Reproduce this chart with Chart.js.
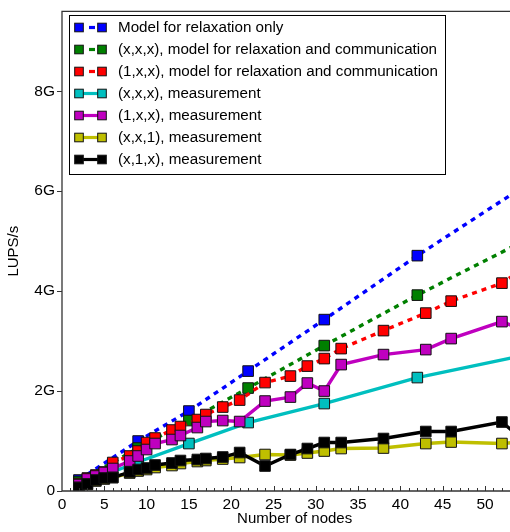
<!DOCTYPE html>
<html>
<head>
<meta charset="utf-8">
<script src="https://cdn.jsdelivr.net/npm/chart.js@4/dist/chart.umd.min.js"></script>
<style>
  html, body { margin: 0; padding: 0; background: #fff; overflow: hidden; }
  #wrap { position: relative; width: 540px; height: 532px; }
</style>
</head>
<body>
<div id="wrap"><canvas id="c" width="540" height="532"></canvas></div>
<script>
// Node counts for the cubic (x,x,x) runs and the slab / pencil runs
const nodesCube = [2, 9, 15, 22, 31, 42, 55];
const nodesSlab = [2, 3, 4, 5, 6, 8, 9, 10, 11, 13, 14, 16, 17, 19, 21, 24, 27, 29, 31, 33, 38, 43, 46, 52, 55];

// Lattice updates per second, in units of 1e9 (G)
const relaxOnlyModel = [0.22, 1.0, 1.6, 2.4, 3.43, 4.71, 6.14];
const cubeCommModel  = [0.19, 0.86, 1.41, 2.06, 2.91, 3.92, 5.04];
const slabCommModel  = [0.15, 0.26, 0.32, 0.38, 0.57, 0.7, 0.8, 0.97, 1.06, 1.22, 1.29, 1.43, 1.53, 1.68, 1.82,
                        2.17, 2.3, 2.5, 2.65, 2.85, 3.21, 3.56, 3.8, 4.16, 4.5];
const cubeMeasured   = [0.12, 0.58, 0.95, 1.37, 1.75, 2.27, 2.73];
const slabMeasured   = [0.13, 0.24, 0.3, 0.37, 0.45, 0.6, 0.7, 0.83, 0.95, 1.03, 1.11, 1.27, 1.39, 1.41, 1.39,
                        1.8, 1.88, 2.16, 2.0, 2.53, 2.73, 2.83, 3.05, 3.39, 3.19];
const xx1Measured    = [0.07, 0.13, 0.2, 0.24, 0.27, 0.36, 0.4, 0.43, 0.47, 0.51, 0.55, 0.59, 0.61, 0.64, 0.67,
                        0.73, 0.72, 0.76, 0.8, 0.85, 0.86, 0.95, 0.98, 0.95, 0.99];
const x1xMeasured    = [0.07, 0.14, 0.22, 0.26, 0.27, 0.38, 0.43, 0.46, 0.52, 0.56, 0.61, 0.63, 0.65, 0.68, 0.77,
                        0.5, 0.73, 0.85, 0.97, 0.97, 1.05, 1.19, 1.19, 1.38, 0.95];

const xTickValues = [0, 5, 10, 15, 20, 25, 30, 35, 40, 45, 50];
const yTickValues = [0, 2, 4, 6, 8];

const seriesLabels = [
  'Model for relaxation only',
  '(x,x,x), model for relaxation and communication',
  '(1,x,x), model for relaxation and communication',
  '(x,x,x), measurement',
  '(1,x,x), measurement',
  '(x,x,1), measurement',
  '(x,1,x), measurement'
];

const FONT = '"Liberation Sans", Arial, Helvetica, sans-serif';

const pts = (xs, ys) => xs.map((x, i) => ({ x, y: ys[i] }));

function series(idx, xs, ys, color, dashed) {
  return {
    label: seriesLabels[idx],
    data: pts(xs, ys),
    borderColor: color,
    backgroundColor: color,
    pointBackgroundColor: color,
    pointBorderColor: '#111',
    pointBorderWidth: 1,
    pointStyle: 'rect',
    pointRadius: 7.5,
    borderWidth: 3.4,
    borderDash: dashed ? [5, 5] : [],
    tension: 0,
    fill: false,
    order: 10 - idx,
    dashedLine: dashed
  };
}

const datasets = [
  series(0, nodesCube, relaxOnlyModel, '#0000ff', true),
  series(1, nodesCube, cubeCommModel, '#008000', true),
  series(2, nodesSlab, slabCommModel, '#ff0000', true),
  series(3, nodesCube, cubeMeasured, '#00bfbf', false),
  series(4, nodesSlab, slabMeasured, '#bf00bf', false),
  series(5, nodesSlab, xx1Measured, '#bfbf00', false),
  series(6, nodesSlab, x1xMeasured, '#000000', false)
];

// Frame around the plot area plus inward minor ticks on the x axis
const framePlugin = {
  id: 'frame',
  afterDraw(chart) {
    const { ctx, chartArea: a } = chart;
    const xs = chart.scales.x;
    ctx.save();
    ctx.strokeStyle = '#333';
    ctx.lineWidth = 1.3;
    ctx.beginPath();
    ctx.rect(a.left, a.top, a.right - a.left, a.bottom - a.top);
    ctx.stroke();
    ctx.lineWidth = 1;
    ctx.beginPath();
    for (let v = 1; v <= xs.max; v++) {
      const px = Math.round(xs.getPixelForValue(v)) + 0.5;
      const len = v % 5 === 0 ? 5 : 3;
      ctx.moveTo(px, a.bottom);
      ctx.lineTo(px, a.bottom - len);
    }
    ctx.stroke();
    ctx.restore();
  }
};

// Boxed legend: marker, line sample, marker, then the label
const legendPlugin = {
  id: 'boxLegend',
  afterDraw(chart) {
    const ctx = chart.ctx;
    const box = { x: 69.5, y: 15.5, w: 376, h: 159 };
    ctx.save();
    ctx.fillStyle = '#fff';
    ctx.fillRect(box.x, box.y, box.w, box.h);
    ctx.strokeStyle = '#000';
    ctx.lineWidth = 1;
    ctx.strokeRect(box.x, box.y, box.w, box.h);
    ctx.font = '15.2px ' + FONT;
    ctx.textBaseline = 'middle';
    ctx.textAlign = 'left';
    chart.data.datasets.forEach((ds, i) => {
      const cy = 27.5 + i * 22;
      const m1 = 79, m2 = 102, half = 4.3;
      ctx.strokeStyle = ds.borderColor;
      ctx.lineWidth = 3.2;
      ctx.setLineDash([]);
      ctx.beginPath();
      if (ds.dashedLine) {
        ctx.moveTo(89, cy);
        ctx.lineTo(95, cy);
      } else {
        ctx.moveTo(m1, cy);
        ctx.lineTo(m2, cy);
      }
      ctx.stroke();
      [m1, m2].forEach(mx => {
        ctx.fillStyle = ds.pointBackgroundColor;
        ctx.fillRect(mx - half, cy - half, half * 2, half * 2);
        ctx.strokeStyle = '#111';
        ctx.lineWidth = 1;
        ctx.strokeRect(mx - half, cy - half, half * 2, half * 2);
      });
      ctx.fillStyle = '#000';
      ctx.fillText(ds.label, 118, cy + 0.5);
    });
    ctx.restore();
  }
};

new Chart(document.getElementById('c'), {
  type: 'line',
  data: { datasets },
  options: {
    responsive: false,
    animation: false,
    events: [],
    layout: { padding: { top: 7, right: 12.7, left: 0, bottom: 0 } },
    plugins: { legend: { display: false }, tooltip: { enabled: false } },
    scales: {
      x: {
        type: 'linear',
        min: 0,
        max: 55,
        afterBuildTicks(s) { s.ticks = xTickValues.map(v => ({ value: v })); },
        afterFit(s) { s.height = 41; },
        grid: { display: true, drawOnChartArea: false, drawTicks: false },
        border: { display: false },
        ticks: {
          color: '#000',
          font: { family: FONT, size: 15.5 },
          padding: 4,
          maxRotation: 0,
          autoSkip: false,
          callback: v => String(v)
        },
        title: {
          display: true,
          text: 'Number of nodes',
          color: '#000',
          font: { family: FONT, size: 15 },
          padding: { top: 0, bottom: 4 }
        }
      },
      y: {
        type: 'linear',
        min: 0,
        max: 9.6,
        afterBuildTicks(s) { s.ticks = yTickValues.map(v => ({ value: v })); },
        afterFit(s) { s.width = 62; },
        grid: { drawOnChartArea: false, drawTicks: true, tickLength: 5, color: '#333', lineWidth: 1 },
        border: { display: false },
        ticks: {
          color: '#000',
          font: { family: FONT, size: 15.5 },
          padding: 2,
          autoSkip: false,
          callback: v => (v === 0 ? '0' : v + 'G')
        },
        title: {
          display: true,
          text: 'LUPS/s',
          color: '#000',
          font: { family: FONT, size: 15 },
          padding: { top: 5, bottom: 0 }
        }
      }
    }
  },
  plugins: [framePlugin, legendPlugin]
});
</script>
</body>
</html>
